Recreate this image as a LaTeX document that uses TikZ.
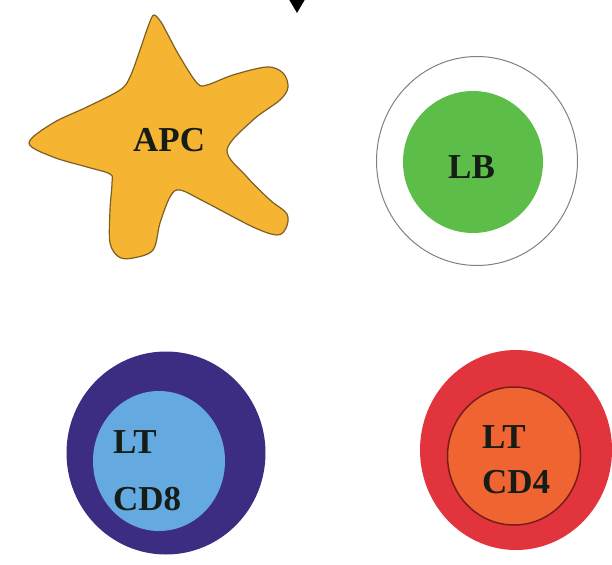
\documentclass[tikz,border=0pt]{standalone}
\usepackage{fontspec}
\setmainfont{Liberation Serif}
\usepackage{xcolor}
\usetikzlibrary{arrows.meta}
\usetikzlibrary{shapes.geometric}
\definecolor{apc_fill}{RGB}{245,180,50}
\definecolor{apc_line}{RGB}{125,95,35}
\definecolor{lb_fill}{RGB}{92,190,72}
\definecolor{cd8_ring}{RGB}{60,45,130}
\definecolor{cd8_fill}{RGB}{100,170,225}
\definecolor{cd4_ring}{RGB}{225,52,60}
\definecolor{cd4_fill}{RGB}{240,100,50}
\definecolor{cd4_line}{RGB}{120,30,25}
\definecolor{label_ink}{RGB}{22,28,22}
\tikzset{
    cell/.style = {ellipse, inner sep=0pt, outer sep=0pt},
    lb_outer/.style = {cell, fill=white, draw=gray, line width=1pt},
    lb_inner/.style = {cell, fill=lb_fill},
    cd8_outer/.style = {cell, fill=cd8_ring},
    cd8_inner/.style = {cell, fill=cd8_fill},
    cd4_outer/.style = {cell, fill=cd4_ring},
    cd4_inner/.style = {cell, fill=cd4_fill, draw=cd4_line, line width=1.5pt},
    apc_body/.style = {fill=apc_fill, draw=apc_line, line width=1.2pt},
    cell_label/.style = {align=left, inner sep=0pt, text=label_ink,
                         font=\fontsize{35}{45}\selectfont\bfseries}
}

\begin{document}
\begin{tikzpicture}[x=1pt, y=-1pt]
    \useasboundingbox (0,0) rectangle (612,564);

    % arrow coming in from above
    \coordinate (arrow_from) at (297,-40);
    \coordinate (arrow_to) at (297,13);
    \draw [line width=2pt, -{Triangle[length=14pt, width=16pt]}] (arrow_from) -- (arrow_to);

    % APC, star shaped cell
    \draw [apc_body] plot [smooth cycle, tension=0.55] coordinates {
        (154,15) (161,22) (167,33) (180,57) (197,83) (207,85) (233,75)
        (267,67) (283,73) (288,87) (280,100) (253,120) (227,150)
        (247,177) (270,200) (287,214) (286,228) (277,235) (253,227)
        (207,203) (180,190) (170,197) (160,223) (153,250) (133,258)
        (119,257) (110,243) (110,210) (112,183) (110,174) (87,167)
        (53,157) (29,143) (53,123) (87,107) (120,90) (130,77)
        (140,50) (149,24)
    };
    \node [cell_label, anchor=base west] (apc) at (133,152) {APC};

    % LB
    \node [lb_outer, minimum width=201pt, minimum height=209pt] (lb_out) at (477,161) {};
    \node [lb_inner, minimum width=140pt, minimum height=142pt] (lb_in) at (473,162) {};
    \node [cell_label, anchor=base west] (lb) at (448,178) {LB};

    % LT CD8
    \node [cd8_outer, minimum width=199pt, minimum height=203pt] (cd8_out) at (166,453) {};
    \node [cd8_inner, minimum width=132pt, minimum height=140pt] (cd8_in) at (159,461) {};
    \node [cell_label, anchor=base west] (cd8) at (113,510) {LT\\[12pt]CD8};

    % LT CD4
    \node [cd4_outer, minimum width=192pt, minimum height=200pt] (cd4_out) at (516,450) {};
    \node [cd4_inner, minimum width=133pt, minimum height=138pt] (cd4_in) at (514,456) {};
    \node [cell_label, anchor=base west] (cd4) at (482,493) {LT\\CD4};
\end{tikzpicture}
\end{document}
